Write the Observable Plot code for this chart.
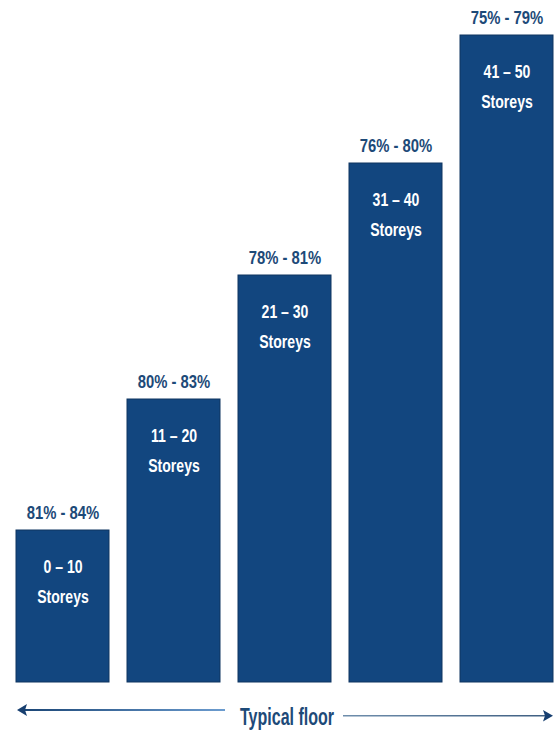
<!DOCTYPE html>
<html>
<head>
<meta charset="utf-8">
<script src="https://cdn.jsdelivr.net/npm/d3@7"></script>
<script src="https://cdn.jsdelivr.net/npm/@observablehq/plot@0.6"></script>
<style>
  html, body { margin: 0; padding: 0; background: #ffffff; }
  #chart { width: 558px; }
  svg { display: block; }
</style>
</head>
<body>
<div id="chart"></div>
<script>
// Data
const categories = ["0 – 10", "11 – 20", "21 – 30", "31 – 40", "41 – 50"];
const efficiency = ["81% - 84%", "80% - 83%", "78% - 81%", "76% - 80%", "75% - 79%"];
const barHeights = [152, 283, 407, 519, 647];
const unitLabel = "Storeys";
const axisLabel = "Typical floor";

const data = categories.map((c, i) => ({ cat: c, eff: efficiency[i], h: barHeights[i] }));

const FONT = "'Liberation Sans', Arial, sans-serif";
const TEXT = "#1d4a78";
const BAR = "#12467f";

const plot = Plot.plot({
  width: 558,
  height: 690,
  marginLeft: 16,
  marginRight: 4,
  marginTop: 35,
  marginBottom: 8,
  style: { fontFamily: FONT, background: "#ffffff" },
  x: { domain: categories, paddingInner: 0.16, paddingOuter: 0, axis: null },
  y: { domain: [0, 647], axis: null },
  marks: [
    Plot.barY(data, { x: "cat", y: "h", fill: BAR, stroke: "#0f3560", strokeWidth: 1 }),
    Plot.text(data, { x: "cat", y: "h", text: "eff", lineAnchor: "bottom", dy: -12,
      fill: TEXT, fontSize: 19, fontWeight: "bold" }),
    Plot.text(data, { x: "cat", y: "h", text: "cat", lineAnchor: "middle", dy: 37,
      fill: "#ffffff", fontSize: 18, fontWeight: "bold" }),
    Plot.text(data, { x: "cat", y: "h", text: () => unitLabel, lineAnchor: "middle", dy: 67,
      fill: "#ffffff", fontSize: 18, fontWeight: "bold" })
  ]
});
document.getElementById("chart").appendChild(plot);

// Condensed look: compress glyphs horizontally (no narrow font installed)
d3.select(plot).selectAll("text").each(function () {
  const w = this.getComputedTextLength();
  if (w > 0) {
    this.setAttribute("textLength", (w * 0.78).toFixed(1));
    this.setAttribute("lengthAdjust", "spacingAndGlyphs");
  }
});

// Bottom arrow caption
const ns = "http://www.w3.org/2000/svg";
const cap = d3.select("#chart").append("svg")
  .attr("xmlns", ns).attr("width", 558).attr("height", 41);
const defs = cap.append("defs");
const g1 = defs.append("linearGradient").attr("id", "gl").attr("x1", "0").attr("x2", "1");
g1.append("stop").attr("offset", "0").attr("stop-color", "#1b4676");
g1.append("stop").attr("offset", "1").attr("stop-color", "#6c9ccf");
const g2 = defs.append("linearGradient").attr("id", "gr").attr("x1", "0").attr("x2", "1");
g2.append("stop").attr("offset", "0").attr("stop-color", "#6f8eac");
g2.append("stop").attr("offset", "1").attr("stop-color", "#3f5f82");
cap.append("rect").attr("x", 24).attr("y", 19).attr("width", 201).attr("height", 2).attr("fill", "url(#gl)");
cap.append("path").attr("d", "M17,20 L27,14 L25,20 L27,26 Z").attr("fill", "#173f70");
cap.append("rect").attr("x", 343).attr("y", 25).attr("width", 202).attr("height", 1.5).attr("fill", "url(#gr)");
cap.append("path").attr("d", "M553,25.75 L543,20 L545,25.75 L543,31.5 Z").attr("fill", "#173f70");
cap.append("text").attr("x", 240).attr("y", 35).attr("textLength", 94).attr("lengthAdjust", "spacingAndGlyphs")
  .attr("font-family", FONT).attr("font-weight", "bold").attr("font-size", 23).attr("fill", TEXT)
  .text(axisLabel);
</script>
</body>
</html>
